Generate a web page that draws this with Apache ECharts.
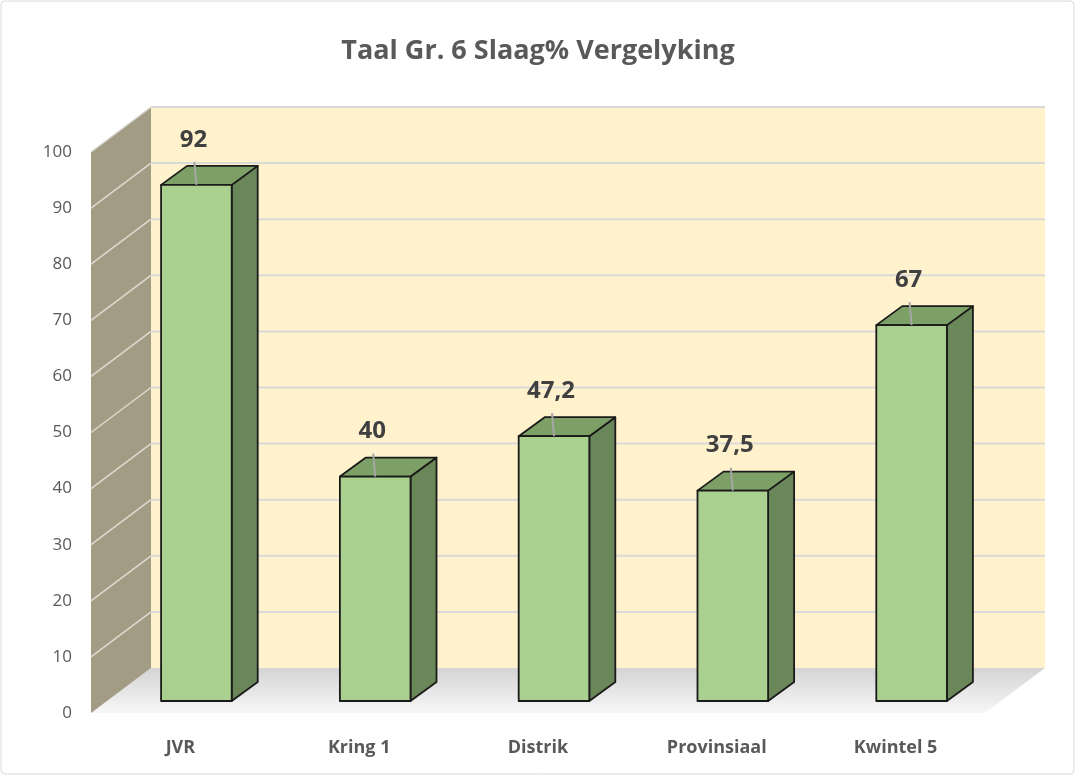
<!DOCTYPE html>
<html>
<head>
<meta charset="utf-8">
<script src="https://cdn.jsdelivr.net/npm/echarts@6/dist/echarts.min.js"></script>
<style>
  html, body { margin: 0; padding: 0; background: #fff; }
  #chart { width: 1076px; height: 776px; }
</style>
</head>
<body>
<div id="chart"></div>
<script>
var categories = ['JVR', 'Kring 1', 'Distrik', 'Provinsiaal', 'Kwintel 5'];
var passRates = [92, 40, 47.2, 37.5, 67];
var yTicks = [0, 10, 20, 30, 40, 50, 60, 70, 80, 90, 100];

// depth offsets (px) for the fake 3D look
var wallDX = 60, wallDY = -45;   // front plane -> back wall
var barDX = 16, barDY = -12;     // front plane -> bar plane
var sideDX = 26, sideDY = -19;   // bar depth

var chart = echarts.init(document.getElementById('chart'));

function renderWalls(params, api) {
    var cs = params.coordSys;
    var x0 = cs.x, x1 = cs.x + cs.width;
    var yBottom = api.coord([0, 0])[1];
    var yTop = api.coord([0, 100])[1];
    var kids = [];
    // floor
    kids.push({
        type: 'polygon',
        shape: { points: [[x0, yBottom], [x0 + wallDX, yBottom + wallDY], [x1 + wallDX, yBottom + wallDY], [x1, yBottom]] },
        style: {
            fill: new echarts.graphic.LinearGradient(0, 0, 0, 1, [
                { offset: 0, color: '#d4d4d4' },
                { offset: 1, color: '#f7f7f7' }
            ])
        }
    });
    // back wall
    kids.push({
        type: 'rect',
        shape: { x: x0 + wallDX, y: yTop + wallDY, width: cs.width, height: yBottom - yTop },
        style: { fill: '#fff2cc' }
    });
    // left wall
    kids.push({
        type: 'polygon',
        shape: { points: [[x0, yBottom], [x0, yTop], [x0 + wallDX, yTop + wallDY], [x0 + wallDX, yBottom + wallDY]] },
        style: { fill: '#a39c85' }
    });
    yTicks.forEach(function (t) {
        var y = api.coord([0, t])[1];
        if (t > 0) {
            kids.push({
                type: 'line',
                shape: { x1: x0 + wallDX, y1: y + wallDY, x2: x1 + wallDX, y2: y + wallDY },
                style: { stroke: '#d9d9d9', lineWidth: 2 }
            });
            kids.push({
                type: 'line',
                shape: { x1: x0, y1: y, x2: x0 + wallDX, y2: y + wallDY },
                style: { stroke: '#ddd9cf', lineWidth: 1.5 }
            });
        }
    });
    return { type: 'group', children: kids };
}

function renderBar(params, api) {
    var i = api.value(0);
    var v = api.value(1);
    var base = api.coord([i, 0]);
    var top = api.coord([i, v]);
    var w = api.size([1, 0])[0] * 0.395;
    var cx = base[0] + barDX;
    var l = cx - w / 2, r = cx + w / 2;
    var yb = base[1] + barDY, yt = top[1] + barDY;
    var edge = { stroke: '#1a1a1a', lineWidth: 1.8, lineJoin: 'round' };
    return {
        type: 'group',
        children: [
            {
                type: 'polygon',
                shape: { points: [[r, yt], [r + sideDX, yt + sideDY], [r + sideDX, yb + sideDY], [r, yb]] },
                style: Object.assign({ fill: '#6a8759' }, edge)
            },
            {
                type: 'polygon',
                shape: { points: [[l, yt], [l + sideDX, yt + sideDY], [r + sideDX, yt + sideDY], [r, yt]] },
                style: Object.assign({ fill: '#7ca066' }, edge)
            },
            {
                type: 'rect',
                shape: { x: l, y: yt, width: w, height: yb - yt },
                style: Object.assign({ fill: '#a9d08e' }, edge)
            },
            {
                type: 'line',
                shape: { x1: cx, y1: yt, x2: cx - 2, y2: yt - 23 },
                style: { stroke: '#a6a6a6', lineWidth: 2 }
            },
            {
                type: 'text',
                style: {
                    x: cx - 3, y: yt - 45,
                    text: String(v).replace('.', ','),
                    fill: '#404040',
                    font: 'bold 24px "Open Sans", sans-serif',
                    align: 'center', verticalAlign: 'middle'
                }
            }
        ]
    };
}

var option = {
    backgroundColor: '#ffffff',
    animation: false,
    title: {
        text: 'Taal Gr. 6 Slaag% Vergelyking',
        left: 'center',
        top: 33,
        textStyle: { fontFamily: 'Open Sans', fontWeight: 'bold', fontSize: 27, color: '#595959' }
    },
    graphic: [{
        type: 'rect',
        shape: { x: 1, y: 1, width: 1073, height: 773, r: 4 },
        style: { fill: 'none', stroke: '#d9d9d9', lineWidth: 1 },
        z: -10
    }],
    grid: { left: 91, right: 91, top: 152, bottom: 63 },
    xAxis: {
        type: 'category',
        data: categories,
        axisLine: { show: false },
        axisTick: { show: false },
        axisLabel: { margin: 26, color: '#595959', fontFamily: 'Open Sans', fontWeight: 'bold', fontSize: 18 }
    },
    yAxis: {
        type: 'value',
        min: 0,
        max: 100,
        interval: 10,
        axisLine: { show: false },
        axisTick: { show: false },
        splitLine: { show: false },
        axisLabel: { margin: 19, color: '#595959', fontFamily: 'Open Sans', fontSize: 17 }
    },
    series: [
        {
            type: 'custom',
            renderItem: renderWalls,
            data: [[0, 0]],
            z: 1,
            silent: true
        },
        {
            type: 'custom',
            renderItem: renderBar,
            data: passRates.map(function (v, i) { return [i, v]; }),
            z: 5
        }
    ]
};

chart.setOption(option);
</script>
</body>
</html>
